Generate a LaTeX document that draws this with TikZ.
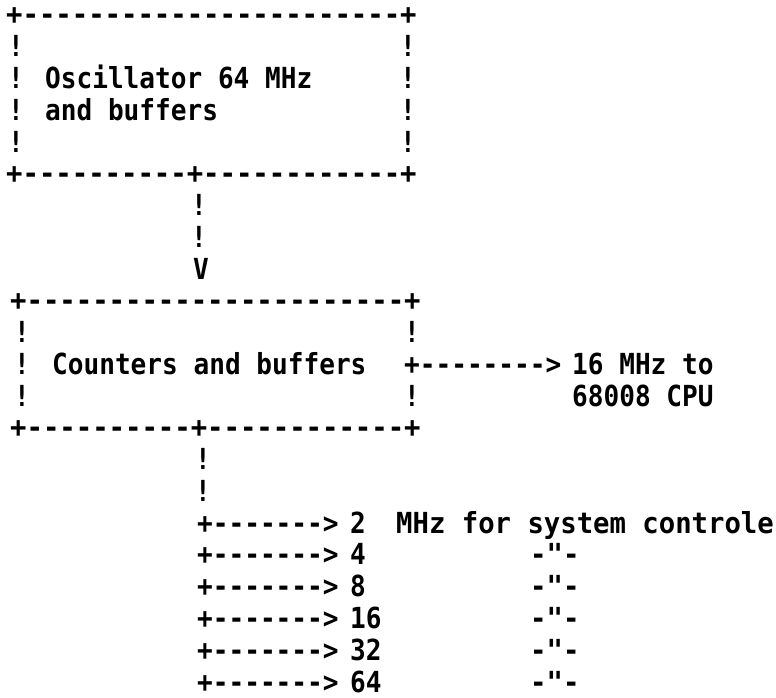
\documentclass[tikz,border=0pt]{standalone}
\usepackage{fontspec}
\setmonofont{DejaVu Sans Mono}
\usepackage{tikz}

\begin{document}
\begin{tikzpicture}[x=1pt, y=-1pt,
    ascii/.style={font=\ttfamily\bfseries\fontsize{29pt}{32pt}\selectfont, inner sep=0pt, anchor=base west, xscale=0.9, transform shape},
    wide/.style={ascii, xscale=1.045},
    glyph/.style={ascii, anchor=base}
]
    \useasboundingbox (0,0) rectangle (776,698);
    % oscillator box
    \node[wide] (osctop) at (6,25) {+-----------------------+};
    \node[glyph] (oscla) at (16,56.8) {!};
    \node[glyph] (oscra) at (408,56.8) {!};
    \node[glyph] (osclb) at (16,88.5) {!};
    \node[ascii] (osc) at (45,88.5) {Oscillator 64 MHz};
    \node[glyph] (oscrb) at (408,88.5) {!};
    \node[glyph] (osclc) at (16,120.3) {!};
    \node[ascii] (oscbuf) at (45,120.3) {and buffers};
    \node[glyph] (oscrc) at (408,120.3) {!};
    \node[glyph] (oscld) at (16,152) {!};
    \node[glyph] (oscrd) at (408,152) {!};
    \node[wide] (oscbot) at (6,183.8) {+----------+------------+};
    % link down
    \node[glyph] (linka) at (199,215.6) {!};
    \node[glyph] (linkb) at (199,247.3) {!};
    \node[glyph] (linkv) at (201,279.1) {V};
    % counter box
    \node[wide] (cnttop) at (10,310.8) {+-----------------------+};
    \node[glyph] (cntla) at (22,342.6) {!};
    \node[glyph] (cntra) at (412,342.6) {!};
    \node[glyph] (cntlb) at (22,374.4) {!};
    \node[ascii] (cnt) at (52,374.4) {Counters and buffers};
    \node[ascii] (cpuarrow) at (404,374.4) {+-------->};
    \node[ascii] (cpu) at (572,374.4) {16 MHz to};
    \node[glyph] (cntlc) at (22,406.1) {!};
    \node[glyph] (cntrc) at (412,406.1) {!};
    \node[ascii] (cpuname) at (572,406.1) {68008 CPU};
    \node[wide] (cntbot) at (10,437.9) {+----------+------------+};
    % clock outputs
    \node[glyph] (outa) at (203,469.6) {!};
    \node[glyph] (outb) at (203,501.4) {!};
    \node[ascii] (clka) at (197,533.2) {+------->};
    \node[ascii] (freqa) at (350,533.2) {2};
    \node[wide] (use) at (396,533.2) {MHz for system controle};
    \node[ascii] (clkb) at (197,564.9) {+------->};
    \node[ascii] (freqb) at (350,564.9) {4};
    \node[wide] (dittob) at (530,564.9) {-"-};
    \node[ascii] (clkc) at (197,596.7) {+------->};
    \node[ascii] (freqc) at (350,596.7) {8};
    \node[wide] (dittoc) at (530,596.7) {-"-};
    \node[ascii] (clkd) at (197,628.4) {+------->};
    \node[ascii] (freqd) at (350,628.4) {16};
    \node[wide] (dittod) at (530,628.4) {-"-};
    \node[ascii] (clke) at (197,660.2) {+------->};
    \node[ascii] (freqe) at (350,660.2) {32};
    \node[wide] (dittoe) at (530,660.2) {-"-};
    \node[ascii] (clkf) at (197,692) {+------->};
    \node[ascii] (freqf) at (350,692) {64};
    \node[wide] (dittof) at (530,692) {-"-};
\end{tikzpicture}
\end{document}
